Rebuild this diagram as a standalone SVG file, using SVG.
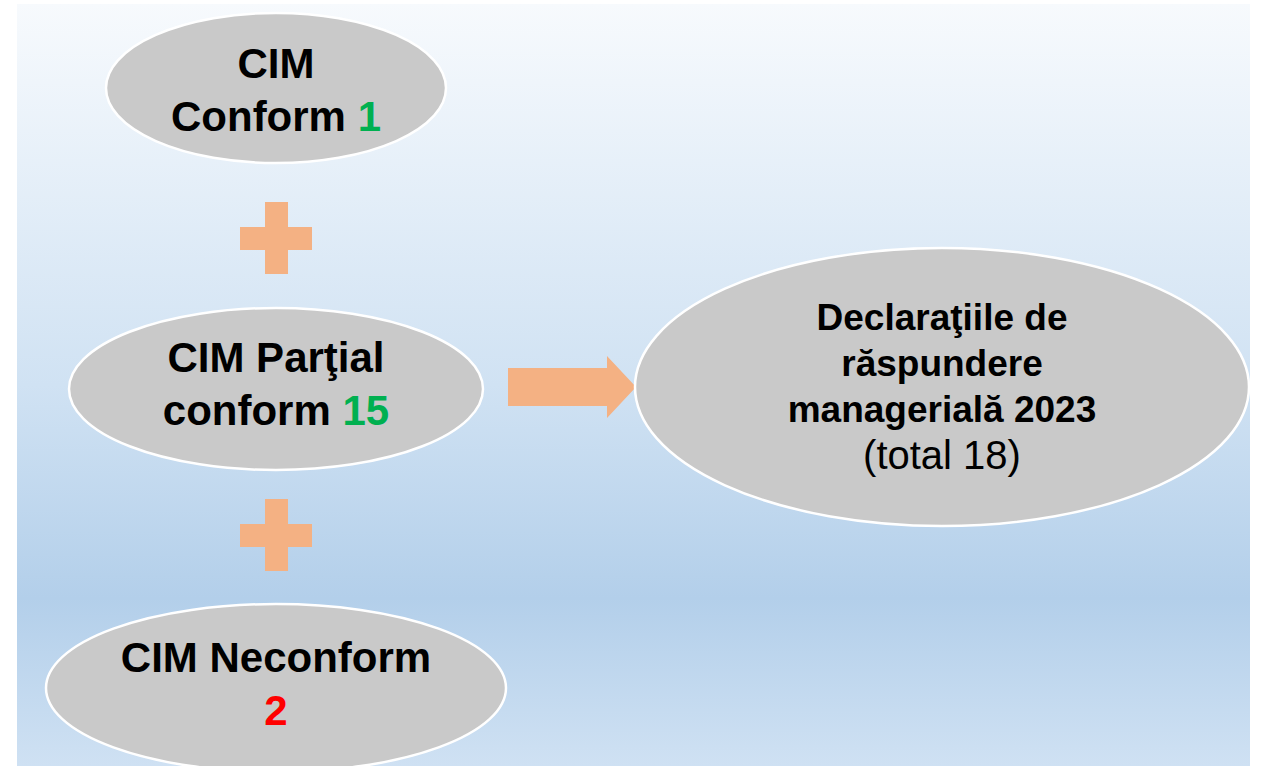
<svg xmlns="http://www.w3.org/2000/svg" width="1263" height="766" viewBox="0 0 1263 766">
<defs>
<linearGradient id="bg" x1="0" y1="0" x2="0" y2="1">
<stop offset="0" stop-color="#f7fafd"/>
<stop offset="0.5" stop-color="#d0e2f3"/>
<stop offset="0.78" stop-color="#b3cfea"/>
<stop offset="1" stop-color="#cfe1f3"/>
</linearGradient>
<style>
.el{fill:#c9c9c9;stroke:#ffffff;stroke-width:2.5}
.t{font-family:"Liberation Sans",Arial,sans-serif;font-weight:bold;font-size:42px;fill:#000;text-anchor:middle}
.d{font-size:37px}
.r{font-family:"Liberation Sans",Arial,sans-serif;font-size:40px;fill:#000;text-anchor:middle}
.g{fill:#00b050}
.red{fill:#ff0000}
.o{fill:#f4b183}
</style>
</defs>
<rect width="1263" height="766" fill="#ffffff"/>
<rect x="17" y="4" width="1233" height="762" fill="url(#bg)"/>
<g id="connectors">
<path class="o" d="M265,202 H288 V227 H312 V250 H288 V274 H265 V250 H240 V227 H265 Z"/>
<path class="o" d="M265,499 H288 V524 H312 V547 H288 V571 H265 V547 H240 V524 H265 Z"/>
<path class="o" d="M508,368 H607 V356 L636,387 L607,418 V406 H508 Z"/>
</g>
<g id="node-conform">
<ellipse class="el" cx="276" cy="88" rx="170" ry="75"/>
<text class="t" x="276" y="78">CIM</text>
<text class="t" x="276" y="131">Conform <tspan class="g">1</tspan></text>
</g>
<g id="node-partial">
<ellipse class="el" cx="276" cy="389" rx="207" ry="81"/>
<text class="t" x="276" y="372">CIM Parţial</text>
<text class="t" x="276" y="425">conform <tspan class="g">15</tspan></text>
</g>
<g id="node-neconform">
<ellipse class="el" cx="276" cy="688" rx="230" ry="84"/>
<text class="t" x="276" y="672">CIM Neconform</text>
<text class="t red" x="276" y="725">2</text>
</g>
<g id="node-declaratii">
<ellipse class="el" cx="942" cy="387" rx="307" ry="139"/>
<text class="t d" x="942" y="330">Declaraţiile de</text>
<text class="t d" x="942" y="376">răspundere</text>
<text class="t d" x="942" y="422">managerială 2023</text>
<text class="r" x="942" y="469">(total 18)</text>
</g>
</svg>
